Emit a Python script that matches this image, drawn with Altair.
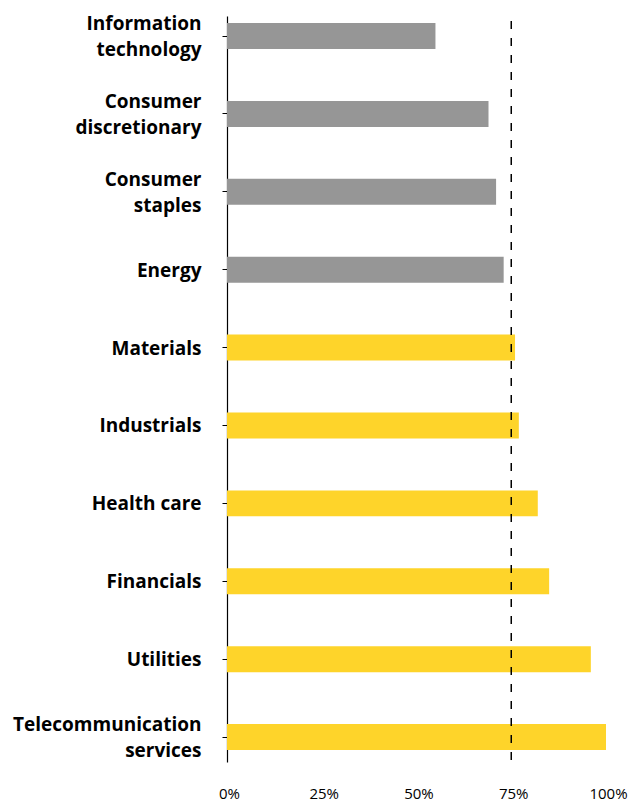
import altair as alt
import pandas as pd

sectors = [
    "Information|technology",
    "Consumer|discretionary",
    "Consumer|staples",
    "Energy",
    "Materials",
    "Industrials",
    "Health care",
    "Financials",
    "Utilities",
    "Telecommunication|services",
]
values = [55, 69, 71, 73, 76, 77, 82, 85, 96, 100]
groups = ["below", "below", "below", "below", "above", "above", "above", "above", "above", "above"]
threshold = [75]

df = pd.DataFrame({"sector": sectors, "value": values, "group": groups})
ref = pd.DataFrame({"t": threshold})

bars = alt.Chart(df).mark_bar().encode(
    y=alt.Y(
        "sector:N",
        sort=None,
        title=None,
        scale=alt.Scale(paddingInner=2 / 3, paddingOuter=9.5 / 78, align=0.37),
        axis=alt.Axis(
            labelExpr="split(datum.label, '|')",
            labelFont="Open Sans",
            labelFontWeight="bold",
            labelFontSize=19,
            labelColor="#000000",
            labelLineHeight=26,
            labelPadding=21,
            labelOffset={"condition": {"test": "indexof(datum.value, '|') >= 0", "value": -12}, "value": 1},
            tickSize=5,
            tickColor="#000000",
            domainColor="#000000",
            domainWidth=1.2,
            labelLimit=300,
        ),
    ),
    x=alt.X(
        "value:Q",
        title=None,
        scale=alt.Scale(domain=[0, 100], nice=False),
        axis=alt.Axis(
            values=[0, 25, 50, 75, 100],
            labelExpr="datum.value + '%'",
            ticks=False,
            domain=False,
            grid=False,
            labelFlush=False,
            labelFont="Open Sans",
            labelFontSize=15,
            labelColor="#000000",
            labelPadding=24,
            labelOffset=2,
        ),
    ),
    color=alt.Color(
        "group:N",
        scale=alt.Scale(domain=["below", "above"], range=["#969696", "#FED42A"]),
        legend=None,
    ),
)

rule = alt.Chart(ref).mark_rule(color="#000000", strokeWidth=1.5, strokeDash=[8, 9]).encode(
    x="t:Q",
    y=alt.value(5),
    y2=alt.value(746),
)

chart = (
    alt.layer(bars, rule)
    .properties(
        width=379,
        height=746,
        autosize=alt.AutoSizeParams(type="none"),
        padding={"left": 227, "top": 16, "right": 29, "bottom": 41},
        background="#ffffff",
    )
    .configure_view(stroke=None)
    .configure_axis(grid=False)
)

chart.save("out.html", embed_options={"renderer": "svg", "actions": False})
